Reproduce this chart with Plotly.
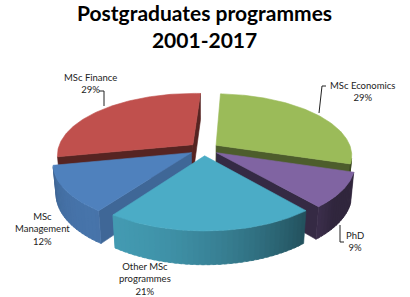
import numpy as np
import plotly.graph_objects as go

# ---------------- data ----------------
categories = ["MSc Economics", "PhD", "Other MSc programmes", "MSc Management", "MSc Finance"]
label_lines = ["MSc Economics", "PhD", "Other MSc<br>programmes", "MSc<br>Management", "MSc Finance"]
shares = [29, 9, 21, 12, 29]
title_lines = ["Postgraduates programmes", "2001-2017"]

# ---------------- style ----------------
top_colors = ["#9BBB59", "#8064A2", "#4BACC6", "#4F81BD", "#C0504D"]
radial_shade = [0.50, 0.42, 0.45, 0.80, 0.45]
label_pos = [(362, 91), (355, 241), (145, 279), (42, 229), (90, 83)]
leaders = [
    "M 326 86 L 322 86 L 319 113",
    "M 344 242 L 340 242 L 340 225",
    None,
    None,
    "M 99 91 L 104 91 L 104 106",
]
FONT = "Lato"

# projection parameters (pixel space)
CX, CY, R = 204.0, 149.0, 135.0
SA = 0.45
CA = float(np.sqrt(1 - SA ** 2))
DPERS = 5.6
DEPTH = 0.25
PULL = 0.11
ROT = 3.0


def hex2rgb(h):
    h = h.lstrip("#")
    return [int(h[i:i + 2], 16) for i in (0, 2, 4)]


def shade(h, f):
    r, g, b = hex2rgb(h)
    return "rgb(%d,%d,%d)" % (min(255, r * f), min(255, g * f), min(255, b * f))


def proj(X, Z, H):
    X = np.asarray(X, float)
    Z = np.asarray(Z, float)
    H = np.asarray(H, float)
    yraw = Z * SA + H * CA
    d = -Z * CA + H * SA
    f = DPERS / (DPERS + d)
    return CX + R * X * f, CY + R * yraw * f


def area(xs, ys):
    s = 0.0
    n = len(xs)
    for i in range(n):
        j = (i + 1) % n
        s += xs[i] * ys[j] - xs[j] * ys[i]
    return s


def wall_factor(theta):
    return 0.38 + 0.52 * max(0.0, np.cos(np.radians(theta - 220)))


fig = go.Figure()


def poly(xs, ys, color):
    xs = list(xs) + [xs[0]]
    ys = list(ys) + [ys[0]]
    fig.add_trace(go.Scatter(x=xs, y=ys, mode="lines", fill="toself",
                             fillcolor=color, line=dict(color=color, width=0.6),
                             hoverinfo="skip", showlegend=False))


total = float(sum(shares))
cum = np.concatenate([[0], np.cumsum(shares)])
slices = []
for k, v in enumerate(shares):
    a0 = ROT + 360 * cum[k] / total
    a1 = ROT + 360 * cum[k + 1] / total
    am = (a0 + a1) / 2
    px = PULL * np.sin(np.radians(am))
    pz = -PULL * np.cos(np.radians(am))
    slices.append((k, a0, a1, am, px, pz))

# back to front
slices.sort(key=lambda s: -np.cos(np.radians(s[3])))

for k, a0, a1, am, px, pz in slices:
    col = top_colors[k]
    n = max(4, int((a1 - a0) / 1.0))
    th = np.linspace(a0, a1, n + 1)
    X = np.sin(np.radians(th)) + px
    Z = -np.cos(np.radians(th)) + pz
    tx, ty = proj(X, Z, 0 * X)
    bx, by = proj(X, Z, DEPTH + 0 * X)
    ax_t, ay_t = proj(px, pz, 0)
    ax_b, ay_b = proj(px, pz, DEPTH)
    ax_t, ay_t, ax_b, ay_b = float(ax_t), float(ay_t), float(ax_b), float(ay_b)
    # radial walls
    w0x = [ax_t, tx[0], bx[0], ax_b]
    w0y = [ay_t, ty[0], by[0], ay_b]
    if area(w0x, w0y) < 0:
        poly(w0x, w0y, shade(col, radial_shade[k]))
    w1x = [tx[-1], ax_t, ax_b, bx[-1]]
    w1y = [ty[-1], ay_t, ay_b, by[-1]]
    if area(w1x, w1y) < 0:
        poly(w1x, w1y, shade(col, radial_shade[k]))
    # outer wall in bands
    vis = []
    for i in range(n):
        qx = [tx[i], tx[i + 1], bx[i + 1], bx[i]]
        qy = [ty[i], ty[i + 1], by[i + 1], by[i]]
        if area(qx, qy) < 0:
            vis.append(i)
    band = 2
    for s in range(0, len(vis), band):
        idx = vis[s:s + band + 1]
        i0, i1 = idx[0], min(idx[-1] + 1, n)
        xs = list(tx[i0:i1 + 1]) + list(bx[i0:i1 + 1][::-1])
        ys = list(ty[i0:i1 + 1]) + list(by[i0:i1 + 1][::-1])
        poly(xs, ys, shade(col, wall_factor(th[(i0 + i1) // 2])))
    # top face
    poly([ax_t] + list(tx), [ay_t] + list(ty), col)

# labels
annotations = []
for k, v in enumerate(shares):
    annotations.append(dict(x=label_pos[k][0], y=label_pos[k][1], xref="x", yref="y",
                            text="%s<br>%d%%" % (label_lines[k], v), showarrow=False,
                            font=dict(family=FONT, size=9.5, color="#222222"),
                            align="center", xanchor="center", yanchor="middle"))
annotations.append(dict(x=204, y=26, xref="x", yref="y",
                        text="<b>%s<br>%s</b>" % (title_lines[0], title_lines[1]),
                        showarrow=False, font=dict(family=FONT, size=21, color="#000000"),
                        align="center", xanchor="center", yanchor="middle"))

shapes = [dict(type="path", path=p, xref="x", yref="y", line=dict(color="#222222", width=1))
          for p in leaders if p]

fig.update_layout(
    width=410, height=297, margin=dict(l=0, r=0, t=0, b=0),
    paper_bgcolor="white", plot_bgcolor="white",
    xaxis=dict(range=[0, 410], visible=False, fixedrange=True),
    yaxis=dict(range=[297, 0], visible=False, fixedrange=True),
    annotations=annotations, shapes=shapes, showlegend=False,
)
fig.write_html("out.html", config={"displayModeBar": False})
